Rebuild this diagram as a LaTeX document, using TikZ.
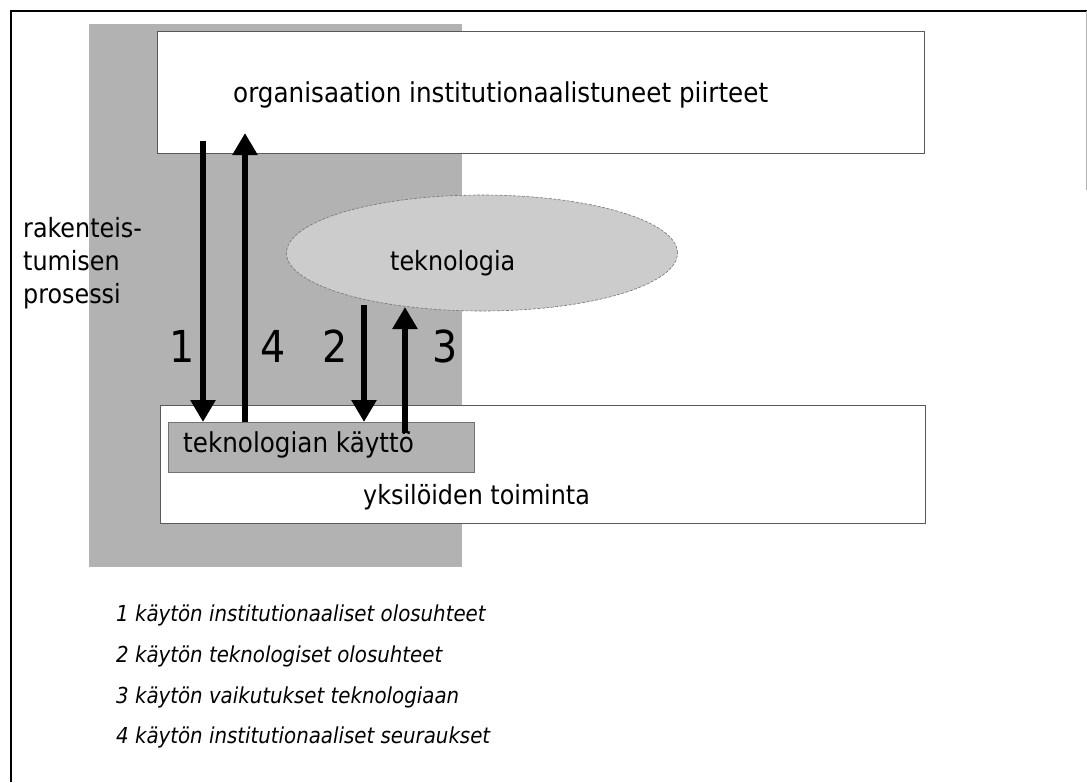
\documentclass[tikz,border=0pt]{standalone}
\usepackage{fontspec}
\setmainfont{DejaVu Sans Condensed}
\usetikzlibrary{arrows.meta,shapes.geometric}
\newcommand\dgmtext{\fontsize{26.5pt}{32pt}\selectfont}
\newcommand\dgmtextl{\fontsize{27.4pt}{32pt}\selectfont}
\newcommand\dgmdigit{\fontsize{44pt}{50pt}\selectfont}
\newcommand\dgmlegend{\fontsize{22pt}{26pt}\selectfont\itshape}
\tikzset{
  frameline/.style={line width=2.5pt, black},
  area/.style={fill=black!30, draw=none, inner sep=0, anchor=north west},
  whitebox/.style={fill=white, draw=black!65, line width=0.9pt, inner sep=0, anchor=north west},
  usebox/.style={fill=black!30, draw=black!55, line width=0.7pt, inner sep=0, anchor=north west},
  techblob/.style={ellipse, fill=black!20, draw=black!55, line width=0.6pt,
    dash pattern=on 3pt off 1.5pt, inner sep=0},
  txt/.style={inner sep=0, anchor=base west, font=\dgmtext},
  txtl/.style={inner sep=0, anchor=base west, font=\dgmtextl},
  num/.style={inner sep=0, anchor=base west, font=\dgmdigit},
  legendline/.style={inner sep=0, anchor=base west, font=\dgmlegend},
  flow/.style={line width=5.5pt, -{Triangle[width=24pt,length=22pt]}},
}
\begin{document}
\begin{tikzpicture}[x=1pt,y=-1pt]
\useasboundingbox (0,0) rectangle (1087,782);

% page frame
\draw[frameline] (11,782) -- (11,11) -- (1087,11);
\draw[black!30, line width=0.6pt] (1086,11) -- (1086,190);

% shaded structuration area
\node[area, minimum width=373pt, minimum height=543pt] (proc) at (89,24) {};

% institutional level and individual action
\node[whitebox, minimum width=767pt, minimum height=122pt] (inst) at (157,31) {};
\node[whitebox, minimum width=765pt, minimum height=118pt] (acts) at (160,405) {};
\node[usebox, minimum width=306pt, minimum height=50pt] (use) at (168,422) {};

% technology
\node[techblob, minimum width=391pt, minimum height=116pt] (tech) at (482,253) {};

% texts
\node[txtl] (insttext) at (233,102) {organisaation institutionaalistuneet piirteet};
\node[txt] (proc1) at (23,237) {rakenteis-};
\node[txt] (proc2) at (23,270) {tumisen};
\node[txt] (proc3) at (23,303) {prosessi};
\node[txt] (techtext) at (390,270) {teknologia};
\node[txtl] (usetext) at (183,452) {teknologian käyttö};
\node[txt] (actstext) at (363,504) {yksilöiden toiminta};

% arrow numbers
\node[num] (n1) at (169,362) {1};
\node[num] (n4) at (260,362) {4};
\node[num] (n2) at (322,362) {2};
\node[num] (n3) at (432,362) {3};

% arrows
\coordinate (a1) at (203,141);
\coordinate (a4) at (245,133);
\coordinate (a2) at (364,305);
\coordinate (a3) at (405,307);
\coordinate (a3s) at (405,433);
\draw[flow] (a1) -- (a1 |- use.north);
\draw[flow] (a4 |- use.north) -- (a4);
\draw[flow] (a2) -- (a2 |- use.north);
\draw[flow] (a3s) -- (a3);

% legend
\node[legendline] (l1) at (116,621) {1 käytön institutionaaliset olosuhteet};
\node[legendline] (l2) at (116,662) {2 käytön teknologiset olosuhteet};
\node[legendline] (l3) at (116,703) {3 käytön vaikutukset teknologiaan};
\node[legendline] (l4) at (116,743) {4 käytön institutionaaliset seuraukset};
\end{tikzpicture}
\end{document}
